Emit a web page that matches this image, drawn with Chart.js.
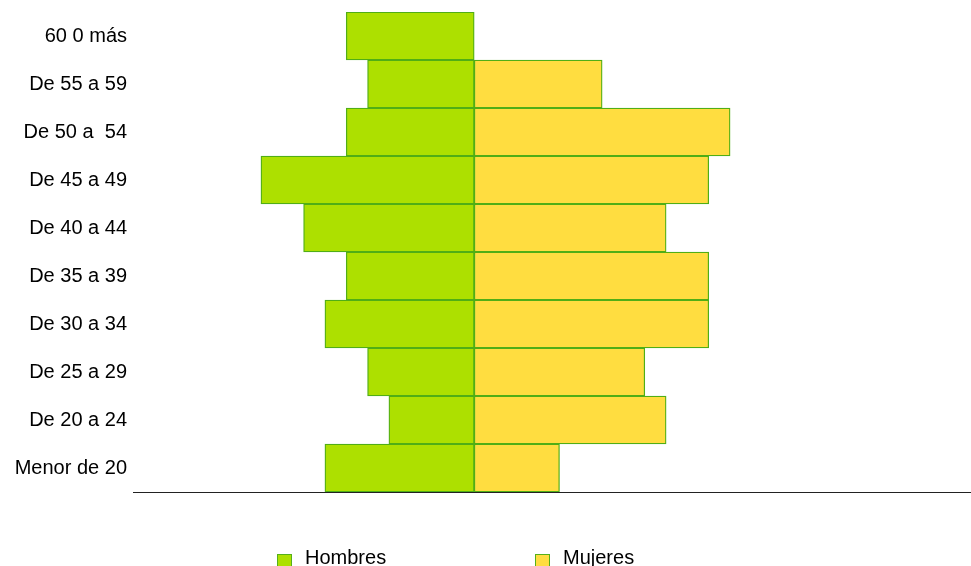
<!DOCTYPE html>
<html>
<head>
<meta charset="utf-8">
<script src="https://cdn.jsdelivr.net/npm/chart.js@4/dist/chart.umd.min.js"></script>
<style>
  html, body { margin: 0; padding: 0; background: #fff; }
  #wrap { position: relative; width: 971px; height: 566px; overflow: hidden; }
  #legend { position: absolute; left: 0; top: 0; width: 971px; height: 566px; pointer-events: none;
            font-family: "Liberation Sans", Arial, sans-serif; font-size: 20px; color: #000; }
  .item { position: absolute; top: 546px; white-space: nowrap; line-height: 22px; }
  .swatch { position: absolute; top: 8px; left: 0; width: 15px; height: 15px; box-sizing: border-box; border: 1px solid #55b01b; }
  .item span.txt { position: absolute; left: 28px; top: 0; }
</style>
</head>
<body>
<div id="wrap">
  <canvas id="pyramid" width="971" height="566"></canvas>
  <div id="legend"></div>
</div>
<script>
// Age groups, top to bottom
const ageGroups = ['60 0 más', 'De 55 a 59', 'De 50 a  54', 'De 45 a 49', 'De 40 a 44',
                   'De 35 a 39', 'De 30 a 34', 'De 25 a 29', 'De 20 a 24', 'Menor de 20'];
const hombres = [6, 5, 6, 10, 8, 6, 7, 5, 4, 7];
const mujeres = [0, 6, 12, 11, 9, 11, 11, 8, 9, 4];
const seriesNames = ['Hombres', 'Mujeres'];

const GREEN = '#ade000';
const YELLOW = '#ffdd40';
const EDGE = '#50ae16';

const ctx = document.getElementById('pyramid').getContext('2d');

new Chart(ctx, {
    type: 'bar',
    data: {
        labels: ageGroups,
        datasets: [{
            label: seriesNames[0],
            data: hombres.map(v => -v),   // men go to the left
            backgroundColor: GREEN,
            borderColor: EDGE,
            borderWidth: 1.3,
            borderSkipped: false,
            barPercentage: 1,
            categoryPercentage: 1
        }, {
            label: seriesNames[1],
            data: mujeres,
            backgroundColor: YELLOW,
            borderColor: EDGE,
            borderWidth: 1.3,
            borderSkipped: false,
            barPercentage: 1,
            categoryPercentage: 1
        }]
    },
    options: {
        indexAxis: 'y',
        responsive: false,
        animation: false,
        layout: {
            padding: { top: 12, right: 1, bottom: 74, left: 0 }
        },
        plugins: {
            legend: { display: false },
            tooltip: { enabled: false }
        },
        scales: {
            x: {
                stacked: true,
                min: -16,
                max: 23.25,
                grid: { display: false, drawTicks: false },
                border: { display: true, color: '#222', width: 1 },
                ticks: { display: false },
                afterFit: function(scale) { scale.height = 0; }
            },
            y: {
                stacked: true,
                grid: { display: false, drawTicks: false },
                border: { display: false },
                ticks: {
                    color: '#000',
                    padding: 6,
                    font: { family: '"Liberation Sans", Arial, sans-serif', size: 20 }
                },
                afterFit: function(scale) {
                    scale.width = 133;
                    scale.paddingTop = 0;
                    scale.paddingBottom = 0;
                }
            }
        }
    }
});

// Legend below the plot
const legendEl = document.getElementById('legend');
const legendLeft = [277, 535];
[GREEN, YELLOW].forEach(function(color, i) {
    const item = document.createElement('div');
    item.className = 'item';
    item.style.left = legendLeft[i] + 'px';
    item.innerHTML = '<div class="swatch" style="background:' + color + '"></div>' +
                     '<span class="txt">' + seriesNames[i] + '</span>';
    legendEl.appendChild(item);
});
</script>
</body>
</html>
